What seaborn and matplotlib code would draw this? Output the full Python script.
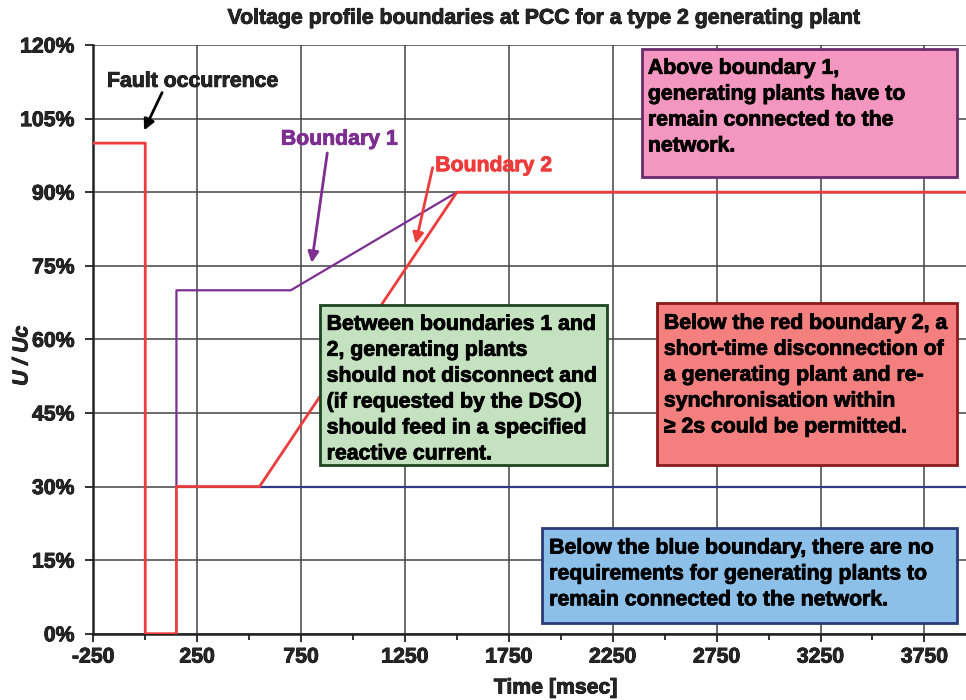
import matplotlib
matplotlib.use('Agg')
import matplotlib.pyplot as plt
import matplotlib.ticker as mticker
import matplotlib.patheffects as pe
from matplotlib.patches import Rectangle
import pandas as pd
import seaborn as sns

# Boundary curves (time in msec, voltage in % of Uc)
b2_time = [-250, 0, 0, 150, 150, 550, 1500, 3950]
b2_volt = [100, 100, 0, 0, 30, 30, 90, 90]
b1_time = [150, 150, 700, 1500, 3950]
b1_volt = [30, 70, 70, 90, 90]
blue_time = [150, 3950]
blue_volt = [30, 30]

x_major = [-250, 250, 750, 1250, 1750, 2250, 2750, 3250, 3750]
x_minor = [0, 500, 1000, 1500, 2000, 2500, 3000, 3500]
y_ticks = [0, 15, 30, 45, 60, 75, 90, 105, 120]

title = 'Voltage profile boundaries at PCC for a type 2 generating plant'
txt_above = 'Above boundary 1,\ngenerating plants have to\nremain connected to the\nnetwork.'
txt_between = ('Between boundaries 1 and\n2, generating plants\nshould not disconnect and\n'
               '(if requested by the DSO)\nshould feed in a specified\nreactive current.')
txt_red = ('Below the red boundary 2, a\nshort-time disconnection of\na generating plant and re-\n'
           'synchronisation within\n\u2265 2s could be permitted.')
txt_blue = ('Below the blue boundary, there are no\nrequirements for generating plants to\n'
            'remain connected to the network.')

RED = '#EE3B3B'
PURPLE = '#7D2E91'
NAVY = '#2E3A87'
FS = 15.3


def heavy(color='black'):
    # a thin outline in the text colour to get a heavier look
    return [pe.withStroke(linewidth=0.6, foreground=color)]


def make_plot():
    sns.set_style('white')
    plt.rcParams['font.family'] = ['Liberation Sans', 'DejaVu Sans']
    plt.rcParams['font.weight'] = 'bold'
    plt.rcParams['axes.unicode_minus'] = False

    fig = plt.figure(figsize=(9.66, 7.0), dpi=100)
    ax = fig.add_axes([0.0966, 0.0947, 0.9034, 0.841])

    df_blue = pd.DataFrame({'t': blue_time, 'u': blue_volt})
    df_b1 = pd.DataFrame({'t': b1_time, 'u': b1_volt})
    df_b2 = pd.DataFrame({'t': b2_time, 'u': b2_volt})
    sns.lineplot(data=df_blue, x='t', y='u', sort=False, estimator=None, color=NAVY, lw=1.6, ax=ax, zorder=3)
    sns.lineplot(data=df_b1, x='t', y='u', sort=False, estimator=None, color=PURPLE, lw=1.6, ax=ax, zorder=4)
    sns.lineplot(data=df_b2, x='t', y='u', sort=False, estimator=None, color=RED, lw=2.0, ax=ax, zorder=5)

    ax.set_xlim(-250, 3950)
    ax.set_ylim(0, 120)
    ax.set_xticks(x_major)
    ax.set_xticks(x_minor, minor=True)
    ax.set_yticks(y_ticks)
    ax.yaxis.set_major_formatter(mticker.FuncFormatter(lambda v, p: f'{v:.0f}%'))
    ax.tick_params(axis='both', which='major', labelsize=FS, length=6, width=1.3, color='#222222')
    ax.tick_params(axis='x', which='major', pad=4)
    ax.tick_params(axis='y', which='major', pad=7.5)
    ax.tick_params(axis='x', which='minor', length=4, width=1.3, color='#222222')
    ax.tick_params(axis='x', bottom=True, which='both')
    ax.tick_params(axis='y', left=True)
    for lab in ax.get_xticklabels() + ax.get_yticklabels():
        lab.set_path_effects(heavy())
    ax.grid(True, which='major', color='#444444', lw=1.1)
    for s in ['top', 'right']:
        ax.spines[s].set_visible(False)
    for s in ['left', 'bottom']:
        ax.spines[s].set_color('#222222')
        ax.spines[s].set_linewidth(1.8)

    ax.set_xlabel('Time [msec]', fontsize=FS, fontweight='bold', path_effects=heavy())
    ax.xaxis.set_label_coords(0.530, -0.076)
    ax.set_ylabel('U / Uc', fontsize=FS, fontweight='bold', style='italic', path_effects=heavy())
    ax.yaxis.set_label_coords(-0.071, 0.472)
    fig.text(0.564, 0.974, title, ha='center', va='center', fontsize=FS, fontweight='bold',
             path_effects=heavy())

    # Text boxes
    boxes = [
        (2389, 93.0, 3908, 119.1, '#F497C0', '#6B2C6E', 2419, 117.2, txt_above),
        (841, 34.4, 2222, 67.1, '#C4E2C0', '#1E4620', 873, 65.0, txt_between),
        (2461, 34.4, 3905, 67.5, '#F47F7F', '#8B1A1A', 2496, 65.2, txt_red),
        (1909, 2.2, 3908, 21.6, '#8CC0E8', '#2A3A7A', 1944, 19.4, txt_blue),
    ]
    for x0, y0, x1, y1, fc, ec, tx, ty, txt in boxes:
        ax.add_patch(Rectangle((x0, y0), x1 - x0, y1 - y0, facecolor=fc, edgecolor=ec,
                               lw=2, zorder=6))
        ax.text(tx, ty, txt, ha='left', va='top', fontsize=FS, fontweight='bold',
                linespacing=1.46, zorder=7, color='black', path_effects=heavy())

    # Labels with arrows
    arrow_kw = dict(arrowstyle='-|>', lw=2, mutation_scale=16, shrinkA=0, shrinkB=0)
    ax.text(-184, 112.6, 'Fault occurrence', ha='left', va='center', fontsize=FS, fontweight='bold',
            path_effects=heavy())
    ax.annotate('', xy=(-6, 102.6), xytext=(81, 110.3), arrowprops=dict(color='black', **arrow_kw), zorder=8)
    ax.text(935, 100.8, 'Boundary 1', ha='center', va='center', fontsize=FS, fontweight='bold', color=PURPLE,
            path_effects=heavy(PURPLE))
    ax.annotate('', xy=(801, 75.6), xytext=(876, 98.0), arrowprops=dict(color=PURPLE, **arrow_kw), zorder=8)
    ax.text(1678, 95.4, 'Boundary 2', ha='center', va='center', fontsize=FS, fontweight='bold', color=RED,
            path_effects=heavy(RED))
    ax.annotate('', xy=(1301, 79.5), xytext=(1383, 95.0), arrowprops=dict(color=RED, **arrow_kw), zorder=8)

    fig.savefig('out.png', dpi=100)
    plt.close(fig)


if __name__ == "__main__":
    make_plot()
